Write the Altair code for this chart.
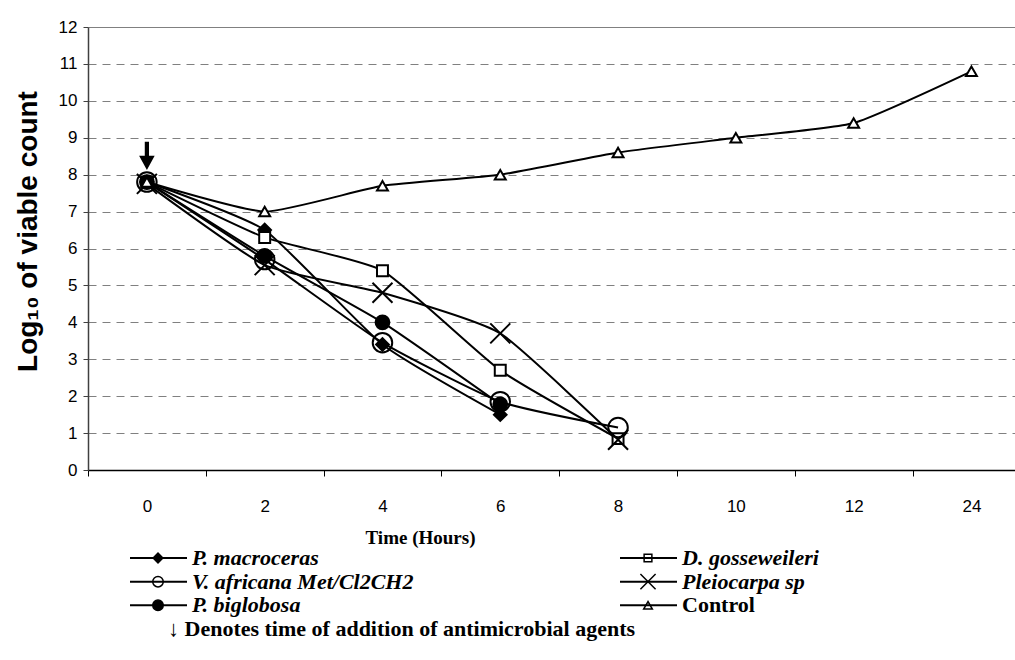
import altair as alt
import pandas as pd

# ---------------- data ----------------
time_labels = ["0", "2", "4", "6", "8", "10", "12", "24"]
series_names = ["P. macroceras", "D. gosseweileri", "V. africana Met/Cl2CH2",
                "Pleiocarpa sp", "P. biglobosa", "Control"]
p_macroceras = [7.8, 6.5, 3.4, 1.5]
d_gosseweileri = [7.8, 6.3, 5.4, 2.7, 0.85]
v_africana = [7.8, 5.7, 3.45, 1.85, 1.15]
pleiocarpa = [7.75, 5.55, 4.8, 3.7, 0.82]
p_biglobosa = [7.8, 5.8, 4.0, 1.78]
control = [7.8, 7.0, 7.7, 8.0, 8.6, 9.0, 9.4, 10.8]
series_values = [p_macroceras, d_gosseweileri, v_africana, pleiocarpa, p_biglobosa, control]

arrow_time_index = [0]
arrow_value = [8.51]

legend_col = [0, 1, 0, 1, 0, 1]
legend_row = [0, 0, 1, 1, 2, 2]
legend_italic = [True, True, True, True, True, False]
note_text = ["\u2193 Denotes time of addition of antimicrobial agents"]

X_PATH = "M-1,-1L1,1M-1,1L1,-1"
ARROW_PATH = "M-0.15,-1L0.15,-1L0.15,0L0.55,0L0,1L-0.55,0L-0.15,0Z"

shape_range = ["diamond", "square", "circle", X_PATH, "circle", "triangle-up"]
fill_plot = ["black", "white", "transparent", "transparent", "black", "white"]
fill_leg = ["black", "transparent", "transparent", "transparent", "black", "transparent"]
size_plot = [160, 120, 380, 400, 190, 120]
size_leg = [95, 60, 110, 230, 110, 75]

# ---------------- tables ----------------
rows = []
for order, (name, vals) in enumerate(zip(series_names, series_values)):
    for i, v in enumerate(vals):
        rows.append({"series": name, "order": order, "idx": i, "value": v,
                     "shape": shape_range[order], "fill": fill_plot[order],
                     "size": size_plot[order]})
df = pd.DataFrame(rows)

leg_df = pd.DataFrame({"series": series_names, "col": legend_col,
                       "row": legend_row, "italic": legend_italic,
                       "shape": shape_range, "fill": fill_leg, "size": size_leg})
note_df = pd.DataFrame({"text": note_text, "col": [0], "row": [3]})
arrow_df = pd.DataFrame({"idx": arrow_time_index, "value": arrow_value})

W, H = 927, 443
X_DOMAIN = [-0.5, 7.37]
Y_DOMAIN = [0, 12]

tick_values = [v / 2 for v in range(-1, 15)]
label_arr = "[" + ",".join("'%s'" % t for t in time_labels) + "]"

x_axis = alt.Axis(
    values=tick_values,
    labelExpr="datum.value % 1 === 0 ? " + label_arr + "[datum.value] : ''",
    tickOpacity={"condition": {"test": "datum.value % 1 !== 0", "value": 1}, "value": 0},
    tickSize=6, tickColor="black", tickWidth=1,
    domainColor="black", domainWidth=1.5,
    labelFont="Liberation Sans", labelFontSize=17, labelColor="black",
    labelPadding=22, labelOverlap=False, labelFlush=False,
    grid=False,
    title="Time (Hours)", titleFont="Liberation Serif", titleFontSize=19,
    titleFontWeight="bold", titleColor="black",
    titleX=332, titleY=67, titleAlign="center", titleBaseline="middle",
)
y_axis = alt.Axis(
    values=list(range(0, 13)),
    grid=True, gridColor="#808080", gridWidth=1,
    gridDash={"condition": {"test": "datum.value === 12", "value": []}, "value": [8, 6]},
    domainColor="#404040", domainWidth=1.5,
    tickColor="#404040", tickSize=5,
    labelFont="Liberation Sans", labelFontSize=17, labelColor="black", labelPadding=6,
    title="Log\u2081\u2080 of viable count", titleFont="Liberation Sans", titleFontSize=28,
    titleFontWeight="bold", titleColor="black",
    titleX=-60, titleY=204, titleAngle=270, titleAlign="center", titleBaseline="middle",
)

xs = alt.Scale(domain=X_DOMAIN, nice=False, zero=False)
ys = alt.Scale(domain=Y_DOMAIN, nice=False, zero=False)

lines = alt.Chart(df).mark_line(
    color="black", strokeWidth=2, interpolate="cardinal", tension=0.5
).encode(
    x=alt.X("idx:Q", scale=xs, axis=x_axis),
    y=alt.Y("value:Q", scale=ys, axis=y_axis),
    detail="series:N",
    order="idx:Q",
)

points = alt.Chart(df).mark_point(
    filled=True, stroke="black", strokeWidth=2, opacity=1
).encode(
    x=alt.X("idx:Q", scale=xs, axis=None),
    y=alt.Y("value:Q", scale=ys, axis=None),
    shape=alt.Shape("shape:N", scale=None),
    fill=alt.Fill("fill:N", scale=None),
    size=alt.Size("size:Q", scale=None),
    order=alt.Order("order:Q"),
)

arrow = alt.Chart(arrow_df).mark_point(
    shape=ARROW_PATH, filled=True, color="black", size=800, opacity=1
).encode(
    x=alt.X("idx:Q", scale=xs, axis=None),
    y=alt.Y("value:Q", scale=ys, axis=None),
)

lx = alt.X("col:Q", scale=alt.Scale(domain=[0, 1], range=[42, 532]), axis=None)
ly = alt.Y("row:Q", scale=alt.Scale(domain=[0, 3], range=[531, 602]), axis=None)

leg_rule = alt.Chart(leg_df).mark_rule(
    color="black", strokeWidth=2, x2Offset=57
).encode(x=lx, x2="col:Q", y=ly)

leg_pts = alt.Chart(leg_df).mark_point(
    filled=True, stroke="black", strokeWidth=1.5, xOffset=28, opacity=1
).encode(
    x=lx, y=ly,
    shape=alt.Shape("shape:N", scale=None),
    fill=alt.Fill("fill:N", scale=None),
    size=alt.Size("size:Q", scale=None),
)

leg_text_it = alt.Chart(leg_df).transform_filter("datum.italic").mark_text(
    align="left", baseline="middle", dx=62, font="Liberation Serif", fontSize=22,
    fontWeight="bold", fontStyle="italic", color="black"
).encode(x=lx, y=ly, text="series:N")

leg_text_rm = alt.Chart(leg_df).transform_filter("!datum.italic").mark_text(
    align="left", baseline="middle", dx=62, font="Liberation Serif", fontSize=22,
    fontWeight="bold", color="black"
).encode(x=lx, y=ly, text="series:N")

note = alt.Chart(note_df).mark_text(
    align="left", baseline="middle", dx=38, font="Liberation Serif", fontSize=22,
    fontWeight="bold", color="black"
).encode(x=lx, y=ly, text="text:N")

chart = alt.layer(
    lines, points, arrow, leg_rule, leg_pts, leg_text_it, leg_text_rm, note
).resolve_scale(
    x="independent", y="independent", shape="independent",
    fill="independent", size="independent"
).properties(
    width=W, height=H,
    autosize=alt.AutoSizeParams(type="none"),
    padding={"left": 88, "top": 27, "right": 0, "bottom": 190},
    background="white",
).configure_view(stroke=None)

chart.save("out.html", embed_options={"renderer": "svg", "actions": False})
